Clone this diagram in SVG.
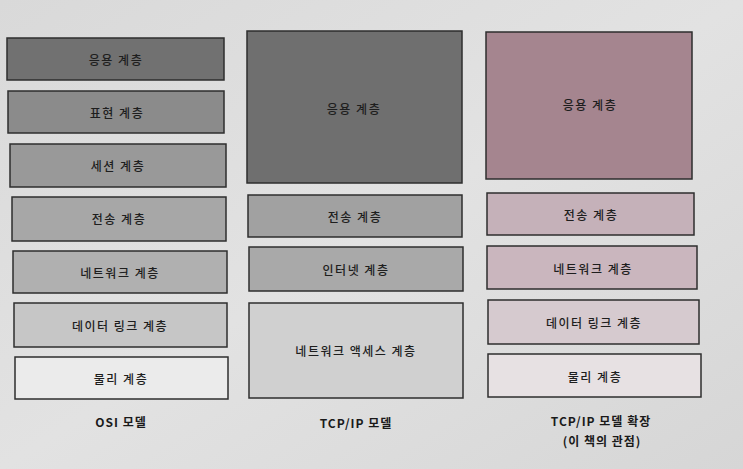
<svg xmlns="http://www.w3.org/2000/svg" width="743" height="469" viewBox="0 0 743 469">
<defs>
<linearGradient id="bg" x1="0" y1="0" x2="1" y2="1">
<stop offset="0" stop-color="#d9d9d9"/>
<stop offset="0.5" stop-color="#e2e2e2"/>
<stop offset="1" stop-color="#d6d6d6"/>
</linearGradient>
</defs>
<style>
.box{stroke:#2e2e2e;stroke-width:1.5}
.t{font-family:"Noto Sans CJK KR","Noto Sans",sans-serif;font-size:12px;font-weight:500;letter-spacing:1.5px;fill:#1e1e1e;text-anchor:middle;dominant-baseline:central}
.cap{font-family:"Noto Sans CJK KR","Noto Sans",sans-serif;font-size:12px;font-weight:bold;letter-spacing:1px;fill:#1a1a1a;text-anchor:middle;dominant-baseline:central}
</style>
<rect x="0" y="0" width="743" height="469" fill="url(#bg)"/>
<g id="osi">
<g id="osi-app"><rect class="box" x="7" y="38" width="217" height="42" fill="#717171"/><text class="t" x="116" y="59">응용 계층</text></g>
<g id="osi-pres"><rect class="box" x="8" y="91" width="216" height="42" fill="#8b8b8b"/><text class="t" x="117" y="112">표현 계층</text></g>
<g id="osi-sess"><rect class="box" x="10" y="144" width="216" height="43" fill="#999999"/><text class="t" x="118" y="165">세션 계층</text></g>
<g id="osi-trans"><rect class="box" x="12" y="197" width="214" height="44" fill="#a7a7a7"/><text class="t" x="119" y="218">전송 계층</text></g>
<g id="osi-net"><rect class="box" x="13" y="251" width="214" height="42" fill="#b0b0b0"/><text class="t" x="120" y="272">네트워크 계층</text></g>
<g id="osi-link"><rect class="box" x="14" y="303" width="213" height="44" fill="#c6c6c6"/><text class="t" x="120" y="325">데이터 링크 계층</text></g>
<g id="osi-phys"><rect class="box" x="15" y="357" width="213" height="42" fill="#ebebeb"/><text class="t" x="121" y="378">물리 계층</text></g>
<text class="cap" x="121" y="421">OSI 모델</text>
</g>
<g id="tcpip">
<g id="tcp-app"><rect class="box" x="247" y="31" width="215" height="152" fill="#6f6f6f"/><text class="t" x="354" y="108">응용 계층</text></g>
<g id="tcp-trans"><rect class="box" x="248" y="195" width="214" height="42" fill="#a1a1a1"/><text class="t" x="355" y="216">전송 계층</text></g>
<g id="tcp-inet"><rect class="box" x="249" y="247" width="214" height="44" fill="#a9a9a9"/><text class="t" x="356" y="269">인터넷 계층</text></g>
<g id="tcp-acc"><rect class="box" x="249" y="303" width="214" height="95" fill="#d0d0d0"/><text class="t" x="356" y="350">네트워크 액세스 계층</text></g>
<text class="cap" x="356" y="422">TCP/IP 모델</text>
</g>
<g id="ext">
<g id="ext-app"><rect class="box" x="486" y="32" width="206" height="147" fill="#a5858f"/><text class="t" x="590" y="104">응용 계층</text></g>
<g id="ext-trans"><rect class="box" x="487" y="193" width="207" height="42" fill="#c5b1b9"/><text class="t" x="591" y="214">전송 계층</text></g>
<g id="ext-net"><rect class="box" x="487" y="246" width="210" height="43" fill="#cab6be"/><text class="t" x="593" y="268">네트워크 계층</text></g>
<g id="ext-link"><rect class="box" x="488" y="300" width="211" height="44" fill="#d6cacf"/><text class="t" x="594" y="322">데이터 링크 계층</text></g>
<g id="ext-phys"><rect class="box" x="488" y="354" width="213" height="43" fill="#e7e1e3"/><text class="t" x="595" y="376">물리 계층</text></g>
<text class="cap" x="601" y="420">TCP/IP 모델 확장</text>
<text class="cap" x="602" y="440">(이 책의 관점)</text>
</g>
<g id="connectors"></g>
</svg>
